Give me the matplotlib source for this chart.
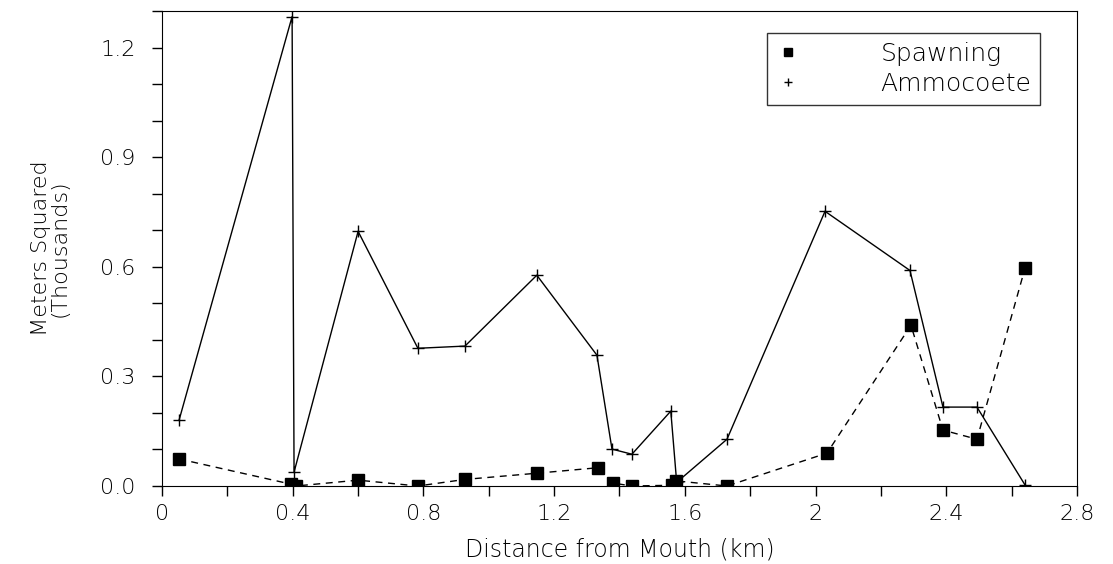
import matplotlib.pyplot as plt
from matplotlib.ticker import MultipleLocator, FuncFormatter

# distance from mouth (km) and area (thousands of m^2)
spawn_x = [0.052, 0.395, 0.41, 0.60, 0.783, 0.927, 1.147, 1.334, 1.38, 1.438,
           1.56, 1.573, 1.729, 2.035, 2.292, 2.39, 2.494, 2.641]
spawn_y = [0.074, 0.005, 0.0, 0.016, 0.0, 0.018, 0.035, 0.05, 0.008, 0.0,
           0.002, 0.014, 0.0, 0.09, 0.44, 0.153, 0.128, 0.596]

ammo_x = [0.052, 0.398, 0.404, 0.60, 0.783, 0.927, 1.147, 1.331, 1.377, 1.438,
          1.557, 1.575, 1.729, 2.029, 2.289, 2.39, 2.494, 2.641]
ammo_y = [0.18, 1.285, 0.038, 0.697, 0.377, 0.383, 0.577, 0.358, 0.101, 0.087,
          0.205, 0.01, 0.128, 0.752, 0.59, 0.216, 0.216, 0.003]

x_ticks = [0, 0.4, 0.8, 1.2, 1.6, 2, 2.4, 2.8]
y_ticks = [0.0, 0.3, 0.6, 0.9, 1.2]

plt.rcParams["font.family"] = "DejaVu Sans"
plt.rcParams["font.weight"] = "light"
plt.rcParams["axes.labelweight"] = "light"

fig = plt.figure(figsize=(11.13, 5.64), dpi=100)
ax = fig.add_axes([0.1456, 0.1383, 0.822, 0.842])

ax.plot(spawn_x, spawn_y, color="black", linestyle=(0, (5, 4)), linewidth=1,
        marker="s", markersize=8, markerfacecolor="black", label="Spawning")
ax.plot(ammo_x, ammo_y, color="black", linestyle="-", linewidth=1,
        marker="+", markersize=9, markeredgewidth=1, label="Ammocoete")

ax.set_xlim(0, 2.8)
ax.set_ylim(0, 1.3)
ax.set_xticks(x_ticks)
ax.set_yticks(y_ticks)
ax.xaxis.set_minor_locator(MultipleLocator(0.2))
ax.yaxis.set_minor_locator(MultipleLocator(0.1))
ax.xaxis.set_major_formatter(FuncFormatter(lambda v, p: "0" if v == 0 else ("%g" % v)))
ax.yaxis.set_major_formatter(FuncFormatter(lambda v, p: "%.1f" % v))
ax.tick_params(which="both", direction="out", labelsize=16, width=1, length=7)
ax.tick_params(axis="y", pad=12)
ax.tick_params(axis="x", pad=6)

ax.set_xlabel("Distance from Mouth (km)", fontsize=17, labelpad=10)
ax.set_ylabel("Meters Squared\n(Thousands)", fontsize=16, linespacing=0.9, labelpad=22)

leg = ax.legend(loc="upper right", bbox_to_anchor=(0.96, 0.954), fontsize=18,
                fancybox=False, edgecolor="black", handlelength=1.0,
                handletextpad=3.2, borderpad=0.35, markerscale=0.7,
                labelspacing=0.25, borderaxespad=0.0)
for h in leg.legend_handles:
    h.set_linestyle("none")
leg.get_frame().set_linewidth(1)

fig.savefig("out.png", dpi=100)
